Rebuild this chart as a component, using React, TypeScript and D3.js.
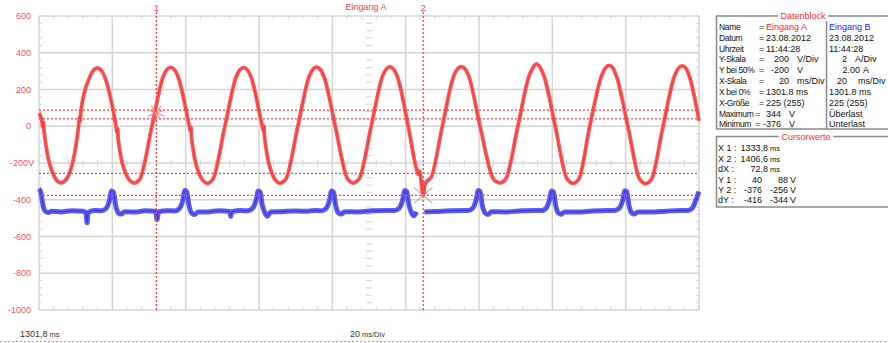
import React, { useEffect, useRef } from 'react';
import * as d3 from 'd3';

// time base
const START_MS = 1301.8;
const MS_PER_DIV = 20;
const DIVS_X = 9;

// y axis (V)
const yTicks = [600, 400, 200, 0, -200, -400, -600, -800, -1000];
const yTickLabels = ['600', '400', '200', '0', '-200V', '-400', '-600', '-800', '-1000'];

// Eingang A: [ms since start, V]
const channelA: [number, number][] = [
  [0.0, 72], [0.8, 28], [1.05, -8], [1.2, 22], [1.4, -28], [4.3, -278], [5.1, -300],
  [5.9, -308], [7.5, -287], [10.8, 0], [11.1, 52], [11.25, 30], [11.4, 80], [13.9, 270], [14.9, 306], [15.9, 317], [16.9, 306], [17.9, 270], [21.0, 0], [21.3, -35], [21.45, -12], [21.6, -70], [24.2, -280], [25.1, -301],
  [25.9, -310], [27.5, -288], [30.8, 0], [33.9, 272], [34.9, 309], [35.9, 320], [36.9, 309], [37.9, 271], [41.0, 0], [41.3, -28], [41.45, -5], [41.6, -62], [44.2, -281], [45.1, -302],
  [45.8, -311], [47.4, -289], [50.7, 0], [53.8, 271], [54.8, 308], [55.8, 319], [56.8, 308], [57.8, 270], [60.9, 0], [61.2, -25], [61.35, 0], [61.5, -55], [64.1, -282], [65.0, -303],
  [65.7, -310], [67.3, -288], [70.6, 0], [73.7, 272], [74.7, 310], [75.7, 322], [76.7, 310], [77.7, 271], [80.8, 0], [84.0, -281], [84.9, -302],
  [85.7, -309], [87.3, -287], [90.6, 0], [93.7, 273], [94.7, 311], [95.7, 323], [96.7, 311], [97.7, 272], [100.7, 0], [103.0, -235], [103.5, -262], [103.75, -245], [104.8, -376], [105.3, -312], [106.0, -296],
  [107.0, -275], [110.0, 0], [113.1, 273], [114.1, 312], [115.2, 325], [116.2, 312], [117.2, 273], [120.3, 0], [123.8, -283], [124.8, -303],
  [125.7, -308], [127.3, -287], [130.6, 0], [133.7, 276], [134.7, 318], [135.7, 340], [136.7, 318], [137.7, 275], [140.8, 0], [143.9, -283], [144.8, -303],
  [145.6, -311], [147.2, -289], [150.2, 0], [153.4, 273], [154.5, 318], [155.5, 331], [156.5, 318], [157.5, 272], [160.6, 0], [163.7, -284], [164.6, -305],
  [165.4, -313], [167.0, -290], [170.2, 0], [173.3, 272], [174.4, 316], [175.4, 329], [176.4, 316], [177.4, 270], [180.0, 30],
];

// Eingang B: [ms since start, V]; NaN marks the gap in the record
const channelB: [number, number][] = [
  [0, -340], [0.5, -360], [1.0, -420], [1.6, -460], [2.4, -470], [3.5, -463], [6, -466], [9, -460], [12, -462], [12.8, -470], [13.1, -525], [13.4, -470], [15, -458],
  [17, -460], [18.2, -450], [19.2, -405], [19.8, -352], [20.3, -358], [20.9, -430], [21.6, -470], [22.4, -478], [23.4, -465], [26, -467], [29, -460], [31.8, -463], [32.2, -508], [32.6, -465], [35, -460],
  [37, -461], [38.2, -450], [39.2, -405], [39.8, -350], [40.3, -357], [40.9, -430], [41.6, -472], [42.4, -480], [43.4, -466], [46, -466], [49, -460], [52.0, -464], [52.3, -490], [52.6, -465], [55, -459],
  [57, -460], [58.2, -448], [59.2, -403], [59.8, -352], [60.3, -358], [60.9, -430], [61.6, -470], [62.3, -490], [63.2, -466], [66, -465], [70, -461], [73, -463], [75, -458],
  [77, -460], [78.2, -450], [79.2, -405], [79.8, -352], [80.3, -358], [80.9, -430], [81.6, -470], [82.4, -478], [83.4, -465], [87, -466], [91, -460], [95, -458],
  [97, -458], [98.2, -446], [99.2, -400], [99.8, -350], [100.3, -356], [100.9, -430], [101.6, -470], [102.2, -488], [103.0, -466], [103.4, NaN],
  [105.1, -466], [108, -464], [112, -460], [116, -458],
  [117, -458], [118.2, -448], [119.2, -402], [119.8, -350], [120.3, -356], [120.9, -430], [121.6, -470], [122.4, -480], [123.4, -465], [127, -466], [131, -461], [135, -458],
  [137, -459], [138.2, -448], [139.2, -404], [139.8, -352], [140.3, -357], [140.9, -430], [141.6, -471], [142.4, -479], [143.4, -466], [147, -467], [151, -461], [155, -458],
  [157, -458], [158.2, -447], [159.2, -402], [159.8, -351], [160.3, -356], [160.9, -430], [161.6, -470], [162.4, -478], [163.4, -466], [167, -467], [171, -462], [175, -458],
  [177, -458], [178.2, -445], [179.2, -400], [180, -356],
];

// cursors
const cursorTimes = [1333.8, 1406.6];
const cursorLevels = [88, 40, -256, -376];
const cursorMarks: [number, number][] = [[1333.8, 72], [1406.6, -376]];

// data block
const dbLabels = ['Name', 'Datum', 'Uhrzeit', 'Y-Skala', 'Y bei 50%', 'X-Skala', 'X bei 0%', 'X-Größe', 'Maximum', 'Minimum'];
const dbValuesA = ['Eingang A', '23.08.2012', '11:44:28', '200', '-200', '20', '1301.8 ms', '225 (255)', '344', '-376'];
const dbUnitsA = ['', '', '', 'V/Div', 'V', 'ms/Div', '', '', 'V', 'V'];
const dbValuesB = ['Eingang B', '23.08.2012', '11:44:28', '2', '2.00', '20', '1301.8  ms', '225 (255)', 'Überlast', 'Unterlast'];
const dbUnitsB = ['', '', '', 'A/Div', 'A', 'ms/Div', '', '', '', ''];

// cursor values
const cwLabels = ['X 1 :', 'X 2 :', 'dX :', 'Y 1 :', 'Y 2 :', 'dY :'];
const cwTimes = ['1333,8', '1406,6', '72,8'];
const cwLevelsA = ['40', '-376', '-416'];
const cwLevelsB = ['88', '-256', '-344'];

const App = () => {
  const svgRef = useRef<SVGSVGElement | null>(null);

  useEffect(() => {
    if (!svgRef.current) return;
    const width = 888;
    const height = 343;
    const svg = d3.select(svgRef.current);
    svg.attr('viewBox', `0 0 ${width} ${height}`).attr('width', width).attr('height', height);
    svg.selectAll('*').remove();
    svg.append('rect').attr('width', width).attr('height', height).attr('fill', '#fff');

    const font = "'Liberation Sans', Arial, sans-serif";
    const plot = { left: 39, right: 699, top: 16, bottom: 310 };
    const endMs = START_MS + MS_PER_DIV * DIVS_X;

    const x = d3.scaleLinear().domain([START_MS, endMs]).range([plot.left, plot.right]);
    const y = d3.scaleLinear().domain([-1000, 600]).range([plot.bottom, plot.top]);

    const grid = svg.append('g').attr('stroke', '#d4d4d4').attr('fill', 'none');

    // major grid
    d3.range(0, DIVS_X + 1).forEach(i => {
      const xv = x(START_MS + i * MS_PER_DIV);
      grid.append('line').attr('x1', xv).attr('x2', xv).attr('y1', plot.top).attr('y2', plot.bottom).attr('stroke-width', 1.5);
    });
    yTicks.forEach(v => {
      grid.append('line').attr('x1', plot.left).attr('x2', plot.right).attr('y1', y(v)).attr('y2', y(v)).attr('stroke-width', 1.5);
    });

    // minor ticks on border and centre lines
    const minorX = d3.range(0, MS_PER_DIV * DIVS_X + 0.01, 4).map(t => x(START_MS + t));
    const minorY = d3.range(-1000, 600.01, 40).map(v => y(v));
    const cy = y(-200);
    const cx = x(START_MS + MS_PER_DIV * DIVS_X / 2);
    minorX.forEach(xv => {
      grid.append('line').attr('x1', xv).attr('x2', xv).attr('y1', plot.top).attr('y2', plot.top + 3);
      grid.append('line').attr('x1', xv).attr('x2', xv).attr('y1', plot.bottom - 3).attr('y2', plot.bottom);
      grid.append('line').attr('x1', xv).attr('x2', xv).attr('y1', cy - 3).attr('y2', cy + 3);
    });
    minorY.forEach(yv => {
      grid.append('line').attr('x1', plot.left).attr('x2', plot.left + 3).attr('y1', yv).attr('y2', yv);
      grid.append('line').attr('x1', plot.right - 3).attr('x2', plot.right).attr('y1', yv).attr('y2', yv);
      grid.append('line').attr('x1', cx - 3).attr('x2', cx + 3).attr('y1', yv).attr('y2', yv);
    });

    // y labels
    yTicks.forEach((v, i) => {
      svg.append('text')
        .attr('x', yTickLabels[i].endsWith('V') ? 34 : 31)
        .attr('y', y(v))
        .attr('dy', '0.35em')
        .attr('text-anchor', 'end')
        .attr('fill', '#ff5050')
        .style('font-family', font)
        .style('font-size', '9px')
        .text(yTickLabels[i]);
    });

    // traces
    const line = d3.line<[number, number]>()
      .defined(d => !isNaN(d[1]))
      .x(d => x(START_MS + d[0]))
      .y(d => y(d[1]))
      .curve(d3.curveMonotoneX);

    svg.append('path').attr('d', line(channelB)).attr('fill', 'none')
      .attr('stroke', '#5c5cf2').attr('stroke-width', 5).attr('stroke-linejoin', 'round');
    svg.append('path').attr('d', line(channelB)).attr('fill', 'none')
      .attr('stroke', '#3434d6').attr('stroke-width', 1);

    svg.append('path').attr('d', line(channelA)).attr('fill', 'none')
      .attr('stroke', '#ff5555').attr('stroke-width', 3.8).attr('stroke-linejoin', 'round');
    svg.append('path').attr('d', line(channelA)).attr('fill', 'none')
      .attr('stroke', '#f03c3c').attr('stroke-width', 1);

    // cursor lines
    const cur = svg.append('g').attr('stroke', '#ff4040').attr('stroke-width', 1.3).attr('stroke-dasharray', '2,2');
    cursorLevels.forEach(v => {
      cur.append('line').attr('x1', plot.left).attr('x2', plot.right).attr('y1', y(v)).attr('y2', y(v));
    });
    cursorTimes.forEach((t, i) => {
      cur.append('line').attr('x1', x(t)).attr('x2', x(t)).attr('y1', 12).attr('y2', plot.bottom);
      svg.append('text')
        .attr('x', x(t)).attr('y', 11)
        .attr('text-anchor', 'middle')
        .attr('fill', '#ff4040')
        .style('font-family', font)
        .style('font-size', '9px')
        .text(String(i + 1));
    });

    // cursor star marks
    cursorMarks.forEach(([t, v], i) => {
      const angles = i === 0 ? [20, 55, 125, 160] : [40, 140];
      const len = i === 0 ? 9 : 12;
      angles.forEach(a => {
        const r = (a * Math.PI) / 180;
        svg.append('line')
          .attr('x1', x(t) - Math.cos(r) * len).attr('y1', y(v) - Math.sin(r) * len)
          .attr('x2', x(t) + Math.cos(r) * len).attr('y2', y(v) + Math.sin(r) * len)
          .attr('stroke', '#ff7a7a').attr('stroke-width', 1);
      });
    });

    // title
    svg.append('text')
      .attr('x', 366).attr('y', 10)
      .attr('text-anchor', 'middle')
      .attr('fill', '#ff4040')
      .style('font-family', font)
      .style('font-size', '9px')
      .text('Eingang A');

    // bottom labels
    const bottomText = (xp: number, num: string, unit: string) => {
      const t = svg.append('text').attr('x', xp).attr('y', 337).attr('fill', '#333')
        .style('font-family', font).style('font-size', '9px');
      t.append('tspan').text(num);
      t.append('tspan').attr('dx', 2).style('font-size', '7.5px').text(unit);
    };
    bottomText(20, '1301,8', 'ms');
    bottomText(350, '20', 'ms/Div');
    svg.append('line').attr('x1', 0).attr('x2', width).attr('y1', 341.5).attr('y2', 341.5)
      .attr('stroke', '#a0a0a0').attr('stroke-dasharray', '2,2');

    // group boxes
    const groupBox = (top: number, bottom: number, title: string, titleX: number) => {
      svg.append('rect').attr('x', 716.5).attr('y', top).attr('width', 200).attr('height', bottom - top)
        .attr('fill', 'none').attr('stroke', '#8a8a8a').attr('stroke-width', 1.5);
      const tw = title.length * 4.6 + 4;
      svg.append('rect').attr('x', titleX - tw / 2).attr('y', top - 5).attr('width', tw).attr('height', 10).attr('fill', '#fff');
      svg.append('text').attr('x', titleX).attr('y', top + 3.2).attr('text-anchor', 'middle')
        .attr('fill', '#ff3030').style('font-family', font).style('font-size', '9px').text(title);
    };
    groupBox(16, 129, 'Datenblock', 803);
    groupBox(136.5, 207, 'Cursorwerte', 806);
    svg.append('line').attr('x1', 826.5).attr('x2', 826.5).attr('y1', 21).attr('y2', 129)
      .attr('stroke', '#8a8a8a').attr('stroke-width', 1.5);

    const txt = (xp: number, yp: number, s: string, anchor = 'start', color = '#111', size = 9, spacing = 0) =>
      svg.append('text').attr('x', xp).attr('y', yp).attr('text-anchor', anchor).attr('fill', color)
        .style('font-family', font).style('font-size', `${size}px`).style('letter-spacing', `${spacing}px`).text(s);

    dbLabels.forEach((lab, i) => {
      const by = 29.8 + i * 10.85;
      txt(719, by, lab, 'start', '#111', 8.5, -0.35);
      const late = i >= 8;
      txt(late ? 755 : 759, by, '=');
      if (dbUnitsA[i]) {
        txt(late ? 781 : 789, by, dbValuesA[i], 'end');
        txt(late ? 789 : 797, by, dbUnitsA[i]);
      } else {
        txt(766, by, dbValuesA[i], 'start', i === 0 ? '#ff2020' : '#111');
      }
      if (dbUnitsB[i]) {
        if (i === 4) {
          txt(860, by, dbValuesB[i], 'end');
          txt(863, by, dbUnitsB[i]);
        } else {
          txt(847, by, dbValuesB[i], 'end');
          txt(i === 5 ? 858 : 855, by, dbUnitsB[i]);
        }
      } else {
        txt(829, by, dbValuesB[i], 'start', i === 0 ? '#2020ff' : '#111');
      }
    });

    cwLabels.forEach((lab, i) => {
      const by = 151.3 + i * 10.4;
      txt(718, by, lab);
      if (i < 3) {
        txt(768, by, cwTimes[i], 'end');
        txt(770, by, 'ms', 'start', '#111', 7.5);
      } else {
        txt(762, by, cwLevelsA[i - 3], 'end');
        txt(788, by, cwLevelsB[i - 3], 'end');
        txt(790, by, 'V');
      }
    });
  }, []);

  return (
    <div style={{ position: 'absolute', left: 0, top: 0 }}>
      <svg ref={svgRef}></svg>
    </div>
  );
};

export default App;
